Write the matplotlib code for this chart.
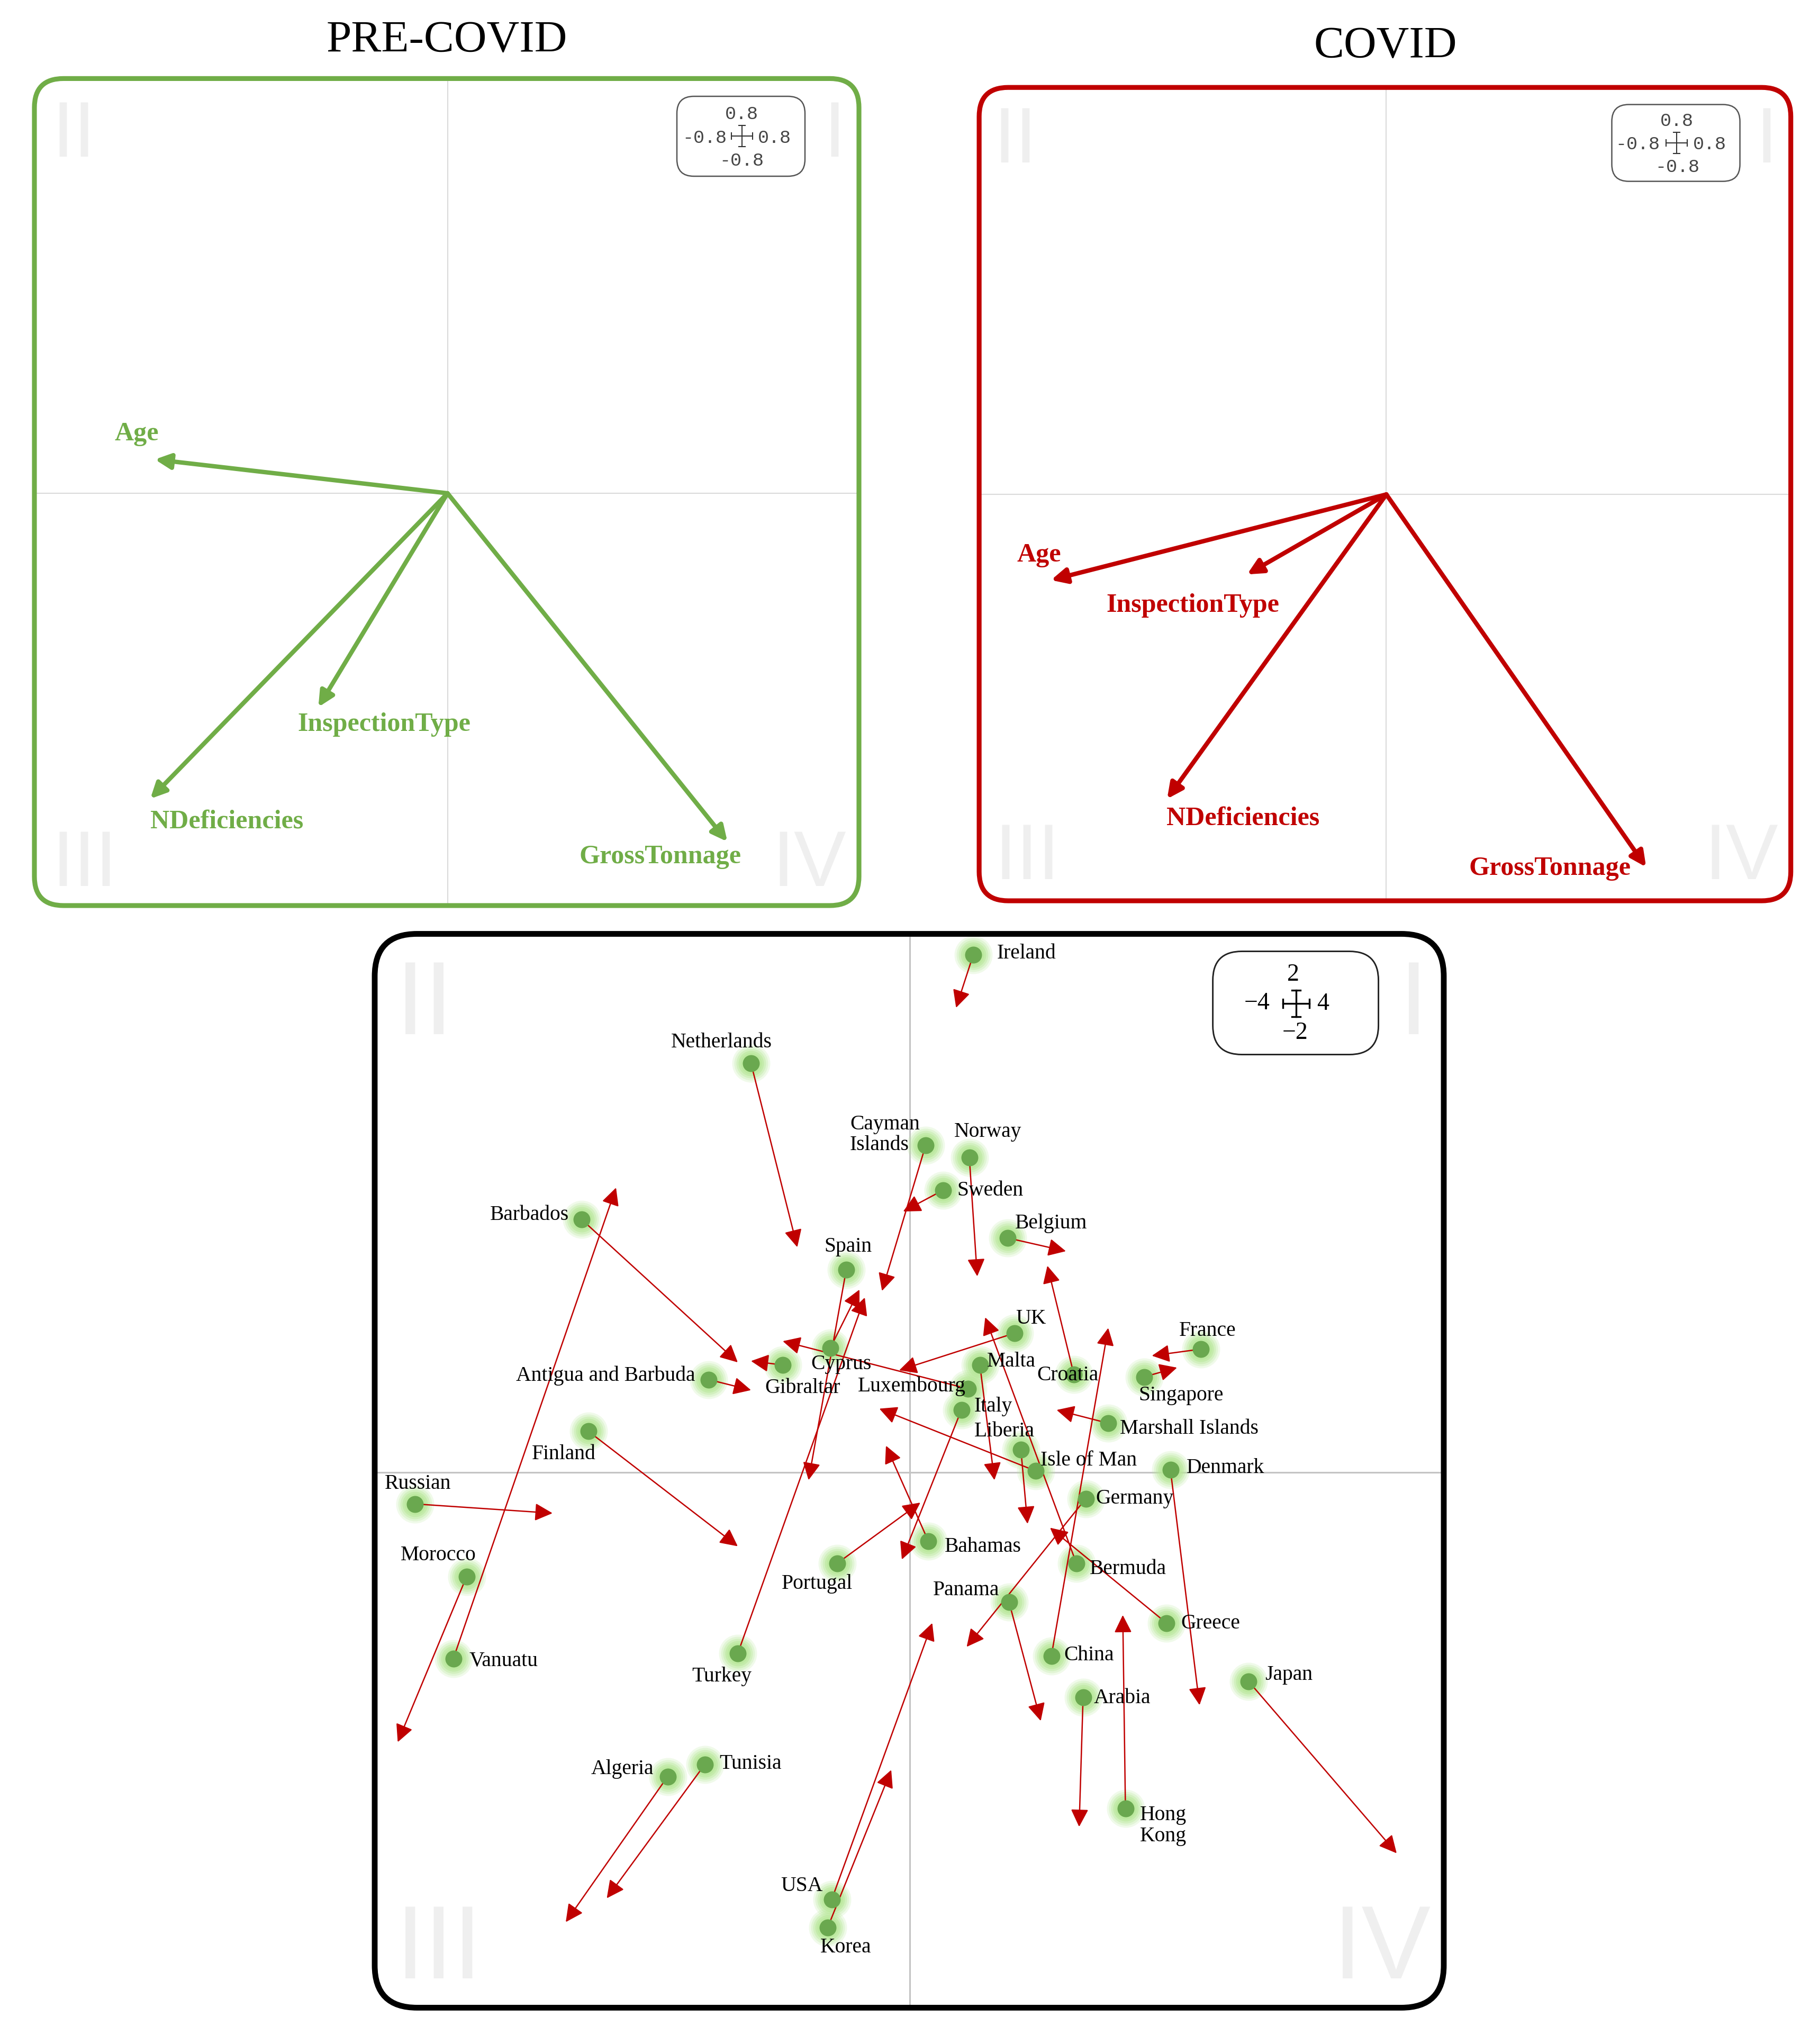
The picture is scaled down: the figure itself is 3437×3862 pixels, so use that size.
import numpy as np
import matplotlib
matplotlib.use("Agg")
import matplotlib.pyplot as plt
from matplotlib.patches import FancyBboxPatch, FancyArrowPatch

W, H = 3437, 3862
DPI = 300
PT = 72.0 / DPI  # points per pixel

# ---------------- data ----------------
variables = ["Age", "InspectionType", "NDeficiencies", "GrossTonnage"]
pre_load_x = [-0.709, -0.313, -0.720, 0.678]
pre_load_y = [0.082, -0.518, -0.740, -0.844]
covid_load_x = [-0.826, -0.343, -0.540, 0.640]
covid_load_y = [-0.211, -0.197, -0.750, -0.918]

countries = ["Ireland", "Netherlands", "Cayman Islands", "Norway", "Sweden",
             "Belgium", "Barbados", "Spain", "UK", "France", "Cyprus", "Malta",
             "Croatia", "Antigua and Barbuda", "Gibraltar", "Luxembourg",
             "Singapore", "Italy", "Marshall Islands", "Liberia", "Finland",
             "Isle of Man", "Denmark", "Russian", "Germany", "Bahamas",
             "Morocco", "Portugal", "Bermuda", "Panama", "Greece", "Vanuatu",
             "Turkey", "China", "Japan", "Arabia", "Algeria", "Tunisia",
             "Hong Kong", "USA", "Korea"]
pre_x = [0.48, -1.20, 0.12, 0.45, 0.25, 0.74, -2.48, -0.48, 0.79, 2.20, -0.60,
         0.53, 1.24, -1.52, -0.96, 0.44, 1.77, 0.39, 1.50, 0.84, -2.43, 0.95,
         1.97, -3.74, 1.33, 0.14, -3.35, -0.55, 1.26, 0.75, 1.94, -3.45, -1.30,
         1.07, 2.56, 1.31, -1.83, -1.55, 1.63, -0.59, -0.62]
pre_y = [3.91, 3.09, 2.47, 2.38, 2.13, 1.77, 1.91, 1.53, 1.05, 0.93, 0.94,
         0.81, 0.74, 0.70, 0.81, 0.63, 0.72, 0.47, 0.37, 0.17, 0.31, 0.01,
         0.02, -0.24, -0.20, -0.52, -0.79, -0.69, -0.69, -0.98, -1.14, -1.41,
         -1.37, -1.39, -1.58, -1.70, -2.30, -2.21, -2.54, -3.23, -3.44]
covid_x = [0.35, -0.85, -0.21, 0.51, -0.05, 1.18, -1.30, -0.765, -0.08, 1.83,
           -0.38, 0.64, 1.04, -1.20, -1.20, -0.96, 2.02, -0.06, 1.11, 0.89,
           -1.30, -0.23, 2.19, -2.70, 0.43, -0.18, -3.87, 0.08, 0.57, 0.99,
           1.06, -2.22, -0.34, 1.50, 3.68, 1.28, -2.60, -2.29, 1.61, 0.17, -0.14]
covid_y = [3.51, 1.70, 1.37, 1.48, 1.97, 1.67, 0.83, -0.06, 0.77, 0.88, 1.38,
           -0.06, 1.56, 0.62, 0.84, 0.99, 0.79, -0.66, 0.47, -0.39, -0.56, 0.48,
           -1.76, -0.31, -1.32, 0.20, -2.04, -0.23, 1.17, -1.88, -0.42, 2.15,
           1.32, 1.09, -2.88, -2.68, -3.40, -3.22, -1.08, -1.14, -2.25]

# ---------------- styling / layout ----------------
GREEN = "#70AD47"
RED = "#C00000"
SERIF = ["Liberation Serif", "DejaVu Serif"]
SANS = ["Liberation Sans", "DejaVu Sans"]
MONO = ["Liberation Mono", "DejaVu Sans Mono"]

# label offsets (px right, px down) relative to each point
label_off = {
    "Ireland": (100, -3), "Netherlands": (-56, -40), "Cayman Islands": (-143, -20),
    "Norway": (35, -48), "Sweden": (89, 0), "Belgium": (82, -28),
    "Barbados": (-99, -9), "Spain": (3, -44), "UK": (31, -28), "France": (13, -35),
    "Cyprus": (20, 31), "Malta": (59, -7), "Croatia": (-12, 2),
    "Antigua and Barbuda": (-195, -7), "Gibraltar": (38, 43), "Luxembourg": (-106, -5),
    "Singapore": (70, 35), "Italy": (60, -7), "Marshall Islands": (153, 10),
    "Liberia": (-31, -35), "Finland": (-46, 43), "Isle of Man": (101, -20),
    "Denmark": (104, -3), "Russian": (6, -38), "Germany": (92, 0),
    "Bahamas": (103, 11), "Morocco": (-53, -41), "Portugal": (-38, 38),
    "Bermuda": (97, 10), "Panama": (-81, -22), "Greece": (83, 1),
    "Vanuatu": (95, 4), "Turkey": (-30, 43), "China": (71, -2), "Japan": (76, -12),
    "Arabia": (74, 2), "Algeria": (-86, -14), "Tunisia": (86, -2),
    "Hong Kong": (27, 33), "USA": (-57, -26), "Korea": (34, 38),
}
two_line = {"Cayman Islands": "Cayman\nIslands", "Hong Kong": "Hong\nKong"}

fig = plt.figure(figsize=(W / DPI, H / DPI), dpi=DPI)

# background overlay (pixel coordinates, y downward)
bg = fig.add_axes([0, 0, 1, 1], zorder=0)
bg.set_xlim(0, W); bg.set_ylim(H, 0); bg.axis("off")
fg = fig.add_axes([0, 0, 1, 1], zorder=10)
fg.set_xlim(0, W); fg.set_ylim(H, 0); fg.axis("off")
fg.patch.set_alpha(0)


def data_axes(left, top, right, bottom, xlim, ylim):
    ax = fig.add_axes([left / W, 1 - bottom / H, (right - left) / W, (bottom - top) / H],
                      zorder=2)
    ax.set_xlim(*xlim); ax.set_ylim(*ylim)
    ax.axis("off")
    ax.patch.set_alpha(0)
    return ax


def frame(x0, y0, x1, y1, color, lw, r):
    fg.add_patch(FancyBboxPatch((x0, y0), x1 - x0, y1 - y0,
                                boxstyle=f"round,pad=0,rounding_size={r}",
                                fill=False, ec=color, lw=lw, zorder=5))


def numerals(items, size):
    for s, x, y in items:
        bg.text(x, y, s, ha="center", va="baseline", fontsize=size,
                family=SANS, color="#efefef", zorder=1)


def small_scale(x0, y0, x1, y1, cx, cy, tpos):
    fg.add_patch(FancyBboxPatch((x0, y0), x1 - x0, y1 - y0,
                                boxstyle="round,pad=0,rounding_size=32",
                                fill=False, ec="#555555", lw=0.6, zorder=5))
    for s, (tx, ty) in zip(["0.8", "-0.8", "0.8", "-0.8"], tpos):
        fg.text(tx, ty, s, ha="center", va="center",
                fontsize=8.4, family=MONO, color="#444444")
    c = "#333333"
    fg.plot([cx - 20, cx + 20], [cy, cy], color=c, lw=0.5)
    fg.plot([cx, cx], [cy - 20, cy + 20], color=c, lw=0.5)
    for sx in (-20, 20):
        fg.plot([cx + sx, cx + sx], [cy - 6, cy + 6], color=c, lw=0.5)
    for sy in (-20, 20):
        fg.plot([cx - 6, cx + 6], [cy + sy, cy + sy], color=c, lw=0.5)


def loading_panel(ax, lx, ly, color, label_pos):
    ax.axhline(0, color="#dadada", lw=0.5, zorder=1)
    ax.axvline(0, color="#dadada", lw=0.5, zorder=1)
    for name, x, y in zip(variables, lx, ly):
        ax.add_patch(FancyArrowPatch((0, 0), (x, y),
                                     arrowstyle="-|>,head_length=0.45,head_width=0.22",
                                     mutation_scale=13, color=color, lw=2.0,
                                     shrinkA=0, shrinkB=0, zorder=3))
        px, py = label_pos[name]
        ax.text(px, py, name, ha="center", va="center", fontsize=12,
                fontweight="bold", family=SERIF, color=color, zorder=4)


# ---------------- PRE-COVID ----------------
ax1 = data_axes(65, 148.4, 1623, 1711, (-1.0008, 0.9967), (-0.9987, 1.0046))
loading_panel(ax1, pre_load_x, pre_load_y, GREEN,
              {"Age": (-0.753, 0.144), "InspectionType": (-0.153, -0.560),
               "NDeficiencies": (-0.535, -0.795), "GrossTonnage": (0.515, -0.881)})
frame(65, 148.4, 1623, 1711, GREEN, 2.2, 55)
bg.text(844.5, 98, "PRE-COVID", ha="center", va="baseline", fontsize=20.5, family=SERIF)
numerals([("II", 139, 296), ("I", 1577, 296), ("III", 160, 1674), ("IV", 1529, 1674)], 35.5)
small_scale(1279, 182, 1521, 333, 1401.7, 256.7,
            [(1401.7, 215.4), (1331.3, 260), (1463.6, 260), (1401.7, 303.6)])

# ---------------- COVID ----------------
ax2 = data_axes(1850.1, 165.2, 3383.7, 1702, (-1.003, 0.9963), (-1.001, 1.0026))
loading_panel(ax2, covid_load_x, covid_load_y, RED,
              {"Age": (-0.855, -0.150), "InspectionType": (-0.4765, -0.274),
               "NDeficiencies": (-0.3527, -0.798), "GrossTonnage": (0.403, -0.921)})
frame(1850.1, 165.2, 3383.7, 1702, RED, 2.2, 55)
bg.text(2617.4, 109, "COVID", ha="center", va="baseline", fontsize=20.5, family=SERIF)
numerals([("II", 1918, 307), ("I", 3338, 307), ("III", 1941, 1661), ("IV", 3290, 1661)], 35.5)
small_scale(3045.5, 197.5, 3287.6, 342.6, 3167.6, 270,
            [(3168.6, 228.8), (3094.5, 272.3), (3230, 272.3), (3169.7, 315.8)])

# ---------------- Procrustes / match panel ----------------
ax3 = data_axes(708, 1764.5, 2728, 3793.4, (-4.044, 4.036), (-4.047, 4.068))
ax3.axhline(0, color="#c4c4c4", lw=0.75, zorder=1)
ax3.axvline(0, color="#c4c4c4", lw=0.75, zorder=1)

# glow around the points
for d, a in [(72, 0.2), (64, 0.25), (56, 0.35), (48, 0.5), (40, 0.6)]:
    ax3.scatter(pre_x, pre_y, s=(d * PT) ** 2, color="#b8e898", alpha=a,
                linewidths=0, zorder=1.5)
for x0, y0, x1, y1 in zip(pre_x, pre_y, covid_x, covid_y):
    ax3.add_patch(FancyArrowPatch((x0, y0), (x1, y1),
                                  arrowstyle="-|>,head_length=0.4,head_width=0.2",
                                  mutation_scale=17, color=RED, lw=0.6,
                                  shrinkA=0, shrinkB=0, zorder=3))
ax3.scatter(pre_x, pre_y, s=(32 * PT) ** 2, color="#6aa84f", linewidths=0, zorder=4)

for name, x0, y0 in zip(countries, pre_x, pre_y):
    dx, dy = label_off[name]
    txt = two_line.get(name, name)
    ha = "left" if name in two_line else "center"
    ax3.annotate(txt, (x0, y0), xytext=(dx * PT, -dy * PT), textcoords="offset points",
                 ha=ha, va="center", fontsize=9.5, family=SERIF, zorder=5,
                 linespacing=1.1)

frame(708, 1764.5, 2728, 3793.4, "black", 2.6, 80)
numerals([("II", 802, 1954), ("I", 2671, 1954), ("III", 830, 3738), ("IV", 2611, 3738)], 47)

# scale box of the match panel
fg.add_patch(FancyBboxPatch((2291.6, 1797.5), 313, 195,
                            boxstyle="round,pad=0,rounding_size=55",
                            fill=False, ec="#222222", lw=0.7, zorder=5))
cx, cy = 2449, 1895.7
for s, tx, ty in [("2", 2443.4, 1841.7), ("\u22124", 2375.5, 1895.7),
                  ("4", 2500, 1897), ("\u22122", 2447, 1952)]:
    fg.text(tx, ty, s, ha="center", va="center", fontsize=11, family=SERIF)
fg.plot([cx - 25, cx + 25], [cy, cy], color="black", lw=0.8)
fg.plot([cx, cx], [cy - 25, cy + 25], color="black", lw=0.8)
for sx in (-25, 25):
    fg.plot([cx + sx, cx + sx], [cy - 8, cy + 8], color="black", lw=0.8)
for sy in (-25, 25):
    fg.plot([cx - 8, cx + 8], [cy + sy, cy + sy], color="black", lw=0.8)

fig.savefig("out.png", dpi=DPI, facecolor="white")
